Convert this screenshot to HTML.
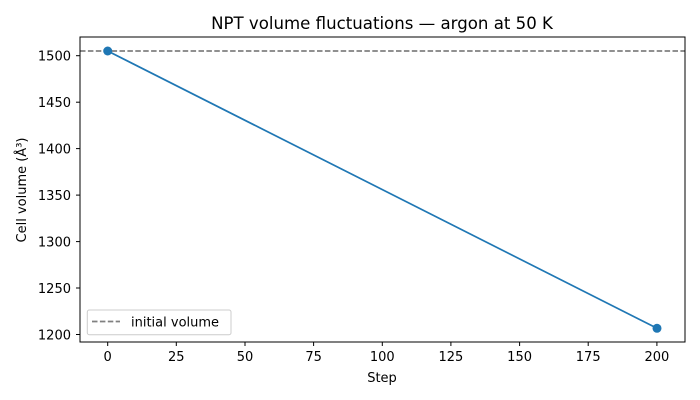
<!DOCTYPE html>
<html><head><meta charset="utf-8"><style>body{margin:0;background:#fff}svg{display:block}text{font-family:"DejaVu Sans","Liberation Sans",sans-serif;fill:#000}</style></head>
<body>
<svg width="700" height="400" viewBox="0 0 700 400" xmlns="http://www.w3.org/2000/svg">
<rect width="700" height="400" fill="#fff"/>
<text x="382" y="29" font-size="16.6" text-anchor="middle">NPT volume fluctuations — argon at 50 K</text>
<line x1="80" y1="51" x2="685" y2="51" stroke="#808080" stroke-width="1.7" stroke-dasharray="5.5,2.4"/>
<line x1="107.7" y1="51" x2="657" y2="328.3" stroke="#1f77b4" stroke-width="1.7"/>
<circle cx="107.7" cy="51" r="4.5" fill="#1f77b4"/>
<circle cx="657" cy="328.3" r="4.5" fill="#1f77b4"/>
<rect x="80" y="37" width="605" height="305" fill="none" stroke="#000" stroke-width="1"/>
<g stroke="#000" stroke-width="1">
<line x1="107.7" y1="342" x2="107.7" y2="346"/><line x1="176.3" y1="342" x2="176.3" y2="346"/><line x1="245" y1="342" x2="245" y2="346"/><line x1="313.6" y1="342" x2="313.6" y2="346"/><line x1="382.3" y1="342" x2="382.3" y2="346"/><line x1="450.9" y1="342" x2="450.9" y2="346"/><line x1="519.6" y1="342" x2="519.6" y2="346"/><line x1="588.2" y1="342" x2="588.2" y2="346"/><line x1="656.9" y1="342" x2="656.9" y2="346"/>
<line x1="76" y1="55.7" x2="80" y2="55.7"/><line x1="76" y1="102.2" x2="80" y2="102.2"/><line x1="76" y1="148.6" x2="80" y2="148.6"/><line x1="76" y1="195.1" x2="80" y2="195.1"/><line x1="76" y1="241.6" x2="80" y2="241.6"/><line x1="76" y1="288" x2="80" y2="288"/><line x1="76" y1="334.5" x2="80" y2="334.5"/>
</g>
<g font-size="13" text-anchor="middle">
<text x="107.7" y="361">0</text><text x="176.3" y="361">25</text><text x="245" y="361">50</text><text x="313.6" y="361">75</text><text x="382.3" y="361">100</text><text x="450.9" y="361">125</text><text x="519.6" y="361">150</text><text x="588.2" y="361">175</text><text x="656.9" y="361">200</text>
</g>
<g font-size="13" text-anchor="end">
<text x="71" y="60.5">1500</text><text x="71" y="107">1450</text><text x="71" y="153.5">1400</text><text x="71" y="200">1350</text><text x="71" y="246.5">1300</text><text x="71" y="293">1250</text><text x="71" y="339.5">1200</text>
</g>
<text x="382" y="382" font-size="13" text-anchor="middle">Step</text>
<text transform="translate(26,190) rotate(-90)" font-size="13" text-anchor="middle">Cell volume (Å³)</text>
<rect x="87.3" y="310" width="143.7" height="24.7" rx="2" fill="#fff" fill-opacity="0.8" stroke="#ccc"/>
<line x1="92" y1="321.5" x2="120" y2="321.5" stroke="#808080" stroke-width="1.7" stroke-dasharray="5.5,2.4"/>
<text x="131" y="326.5" font-size="13">initial volume</text>
</svg>
</body></html>
